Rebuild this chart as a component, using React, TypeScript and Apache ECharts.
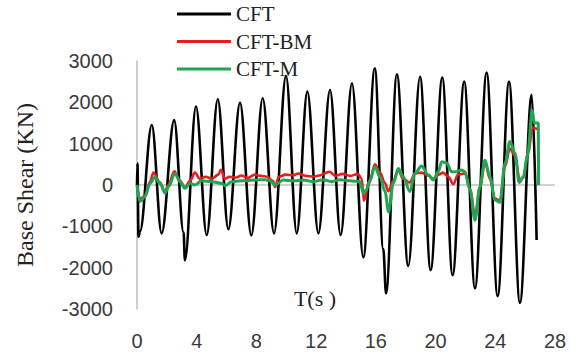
import React, { useEffect, useRef } from "react";
import * as echarts from "echarts";

// ---- Data ----
const CFT_T = [0, 0.03, 0.1, 0.2, 0.99, 1.65, 2.49, 3.12, 3.21, 3.95, 4.67, 5.41, 6.12, 6.9, 7.66, 8.42, 9.18, 9.98, 10.7, 11.41, 12.15, 12.93, 13.64, 14.4, 15.16, 15.93, 16.5, 16.68, 17.41, 18.17, 18.96, 19.67, 20.45, 21.14, 21.92, 22.64, 23.42, 24.16, 24.92, 25.65, 26.44, 26.77];
const CFT_V = [0, 520, -1250, -1120, 1450, -1170, 1570, -1150, -1820, 1900, -1210, 2075, -1070, 1990, -1220, 2100, -1170, 2640, -1170, 2260, -1170, 2300, -1210, 2460, -1750, 2825, -1550, -2620, 2680, -1960, 2620, -2060, 2600, -2180, 2500, -2500, 2720, -2690, 2500, -2850, 2180, -1330];

const BM_T = [0, 0.2, 0.54, 0.87, 1.1, 1.54, 1.88, 2.1, 2.5, 2.88, 3.21, 3.55, 3.88, 4.2, 4.6, 5.0, 5.45, 5.62, 5.9, 6.2, 6.6, 7.0, 7.4, 7.9, 8.3, 8.7, 9.1, 9.25, 9.5, 9.95, 10.47, 10.8, 11.3, 11.81, 12.2, 12.9, 13.3, 13.75, 14.3, 14.8, 15.05, 15.2, 15.55, 15.94, 16.28, 16.61, 16.83, 17.17, 17.5, 17.84, 18.28, 18.62, 19.06, 19.51, 19.85, 20.2, 20.5, 20.85, 21.2, 21.5, 21.97, 22.31, 22.64, 22.97, 23.31, 23.64, 23.98, 24.31, 24.65, 24.98, 25.32, 25.65, 25.88, 26.21, 26.5, 26.88];
const BM_V = [0, -350, -250, 80, 300, 60, -170, 0, 330, 100, -60, 100, 300, 150, 200, 150, 250, 370, 150, 200, 180, 230, 170, 250, 220, 200, 100, -50, 200, 250, 230, 280, 220, 200, 230, 320, 220, 270, 220, 270, 150, -380, 50, 500, 300, 50, -150, 100, 350, 150, 60, 280, 300, 230, 150, 250, 300, 200, 20, 250, 280, -100, -750, -50, 550, 150, -330, -380, 450, 880, 700, 100, 180, 800, 1380, 1350];

const M_T = [0, 0.2, 0.54, 0.87, 1.2, 1.54, 1.88, 2.1, 2.55, 2.88, 3.21, 3.55, 3.88, 4.33, 5.0, 5.67, 5.9, 6.34, 7.01, 7.9, 8.57, 8.91, 9.25, 9.8, 10.47, 11.14, 11.81, 12.48, 13.04, 13.6, 14.27, 14.94, 15.16, 15.34, 15.61, 15.94, 16.28, 16.61, 16.85, 17.17, 17.5, 17.84, 18.28, 18.62, 19.06, 19.51, 19.85, 20.18, 20.41, 20.74, 21.08, 21.41, 21.75, 21.97, 22.31, 22.64, 22.97, 23.31, 23.64, 23.98, 24.31, 24.65, 24.98, 25.32, 25.6, 25.88, 26.15, 26.48, 26.62, 26.88, 26.9];
const M_V = [0, -400, -280, 40, 190, 40, -200, -40, 270, 80, -80, 40, 0, 100, 80, 40, -20, 80, 100, 120, 130, 100, 0, 120, 100, 120, 80, 130, 80, 130, 100, 80, -200, -130, 120, 440, 190, -150, -650, 40, 400, 200, -160, 280, 460, 250, 120, 320, 560, 530, 320, 320, 360, 320, -120, -850, -40, 600, 200, -360, -420, 520, 1050, 770, 60, 200, 700, 1800, 1500, 1500, 0];

const SERIES_NAMES = ["CFT", "CFT-BM", "CFT-M"];
const X_MIN = 0;
const X_MAX = 28;
const X_STEP = 4;
const Y_MIN = -3000;
const Y_MAX = 3000;
const Y_STEP = 1000;
const Y_NAME = "Base Shear (KN)";
const X_NAME = "T(s )";

const zip = (t: number[], v: number[]) => t.map((x, i) => [x, v[i]]);

export default function App() {
  const ref = useRef<HTMLDivElement>(null);
  useEffect(() => {
    if (!ref.current) return;
    const chart = echarts.init(ref.current, undefined, { renderer: "svg" });
    const serif = "Liberation Serif";
    const sans = "Liberation Sans";
    const tickCount = Math.round((Y_MAX - Y_MIN) / Y_STEP) + 1;
    const splitColors = Array.from({ length: tickCount }, (_, i) =>
      Y_MIN + i * Y_STEP === 0 ? "#bfbfbf" : "rgba(0,0,0,0)"
    );
    const mkSeries = (name: string, data: number[][], color: string, width: number) => ({
      name,
      type: "line",
      data,
      showSymbol: false,
      symbol: "none",
      smooth: 0.35,
      smoothMonotone: "x",
      lineStyle: { color, width },
      itemStyle: { color },
    });
    chart.setOption({
      animation: false,
      backgroundColor: "#ffffff",
      grid: { left: 137, right: 16, top: 61, bottom: 47 },
      legend: {
        orient: "vertical",
        left: 177,
        top: 3,
        padding: 0,
        itemGap: 5.5,
        itemWidth: 54,
        itemHeight: 3,
        icon: "rect",
        data: SERIES_NAMES,
        textStyle: { fontFamily: serif, fontSize: 21, color: "#222", lineHeight: 22 },
      },
      xAxis: {
        type: "value",
        min: X_MIN,
        max: X_MAX,
        interval: X_STEP,
        axisLine: { show: false, onZero: false },
        axisTick: { show: false },
        splitLine: { show: false },
        axisLabel: {
          fontFamily: sans,
          fontSize: 20,
          color: "#3a3a3a",
          margin: 22,
          formatter: (v: number) => String(v),
        },
      },
      yAxis: {
        type: "value",
        min: Y_MIN,
        max: Y_MAX,
        interval: Y_STEP,
        name: Y_NAME,
        nameLocation: "middle",
        nameGap: 100,
        nameTextStyle: { fontFamily: serif, fontSize: 24, color: "#222" },
        axisLine: { show: true, lineStyle: { color: "#bfbfbf", width: 1.5 } },
        axisTick: { show: false },
        splitLine: { show: true, lineStyle: { color: splitColors, width: 1.5 } },
        axisLabel: {
          fontFamily: sans,
          fontSize: 20,
          color: "#3a3a3a",
          margin: 24,
          formatter: (v: number) => String(v),
        },
      },
      graphic: [
        {
          type: "text",
          x: 315,
          y: 298,
          style: {
            text: X_NAME,
            font: `22px "${serif}"`,
            fill: "#222",
            align: "center",
            verticalAlign: "middle",
            textAlign: "center",
            textVerticalAlign: "middle",
          },
        },
      ],
      series: [
        mkSeries(SERIES_NAMES[0], zip(CFT_T, CFT_V), "#000000", 2.6),
        mkSeries(SERIES_NAMES[1], zip(BM_T, BM_V), "#ec1c1c", 2.6),
        mkSeries(SERIES_NAMES[2], zip(M_T, M_V), "#1fa653", 3),
      ],
    });
    return () => chart.dispose();
  }, []);
  return (
    <div
      ref={ref}
      style={{ position: "fixed", left: 0, top: 0, width: 571, height: 356, background: "#fff" }}
    />
  );
}
